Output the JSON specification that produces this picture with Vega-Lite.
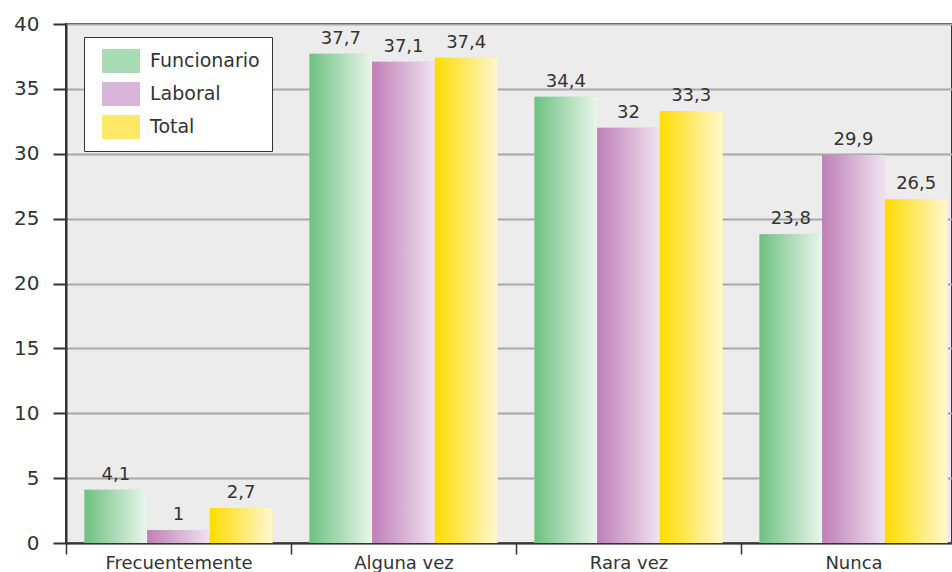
{
  "$schema": "https://vega.github.io/schema/vega-lite/v6.json",
  "width": 886,
  "height": 519,
  "autosize": {"type": "none"},
  "padding": {"left": 66, "top": 24, "right": 0, "bottom": 29},
  "background": "#ffffff",
  "config": {
    "locale": {"number": {"decimal": ",", "thousands": ".", "grouping": [3], "currency": ["", " €"]}},
    "font": "DejaVu Sans",
    "view": {"fill": "#ececec", "stroke": "#333333", "strokeWidth": 2}
  },
  "data": {
    "values": [
      {"cat": "Frecuentemente", "serie": "Funcionario", "value": 4.1},
      {"cat": "Frecuentemente", "serie": "Laboral", "value": 1},
      {"cat": "Frecuentemente", "serie": "Total", "value": 2.7},
      {"cat": "Alguna vez", "serie": "Funcionario", "value": 37.7},
      {"cat": "Alguna vez", "serie": "Laboral", "value": 37.1},
      {"cat": "Alguna vez", "serie": "Total", "value": 37.4},
      {"cat": "Rara vez", "serie": "Funcionario", "value": 34.4},
      {"cat": "Rara vez", "serie": "Laboral", "value": 32},
      {"cat": "Rara vez", "serie": "Total", "value": 33.3},
      {"cat": "Nunca", "serie": "Funcionario", "value": 23.8},
      {"cat": "Nunca", "serie": "Laboral", "value": 29.9},
      {"cat": "Nunca", "serie": "Total", "value": 26.5}
    ]
  },
  "encoding": {
    "x": {
      "field": "cat", "type": "nominal", "sort": null,
      "scale": {"range": [0, 900], "paddingInner": 0, "paddingOuter": 0},
      "axis": {
        "title": null, "labelAngle": 0, "domainColor": "#333333", "domainWidth": 2,
        "tickBand": "extent", "tickColor": "#333333", "tickWidth": 1.5, "tickSize": 11,
        "labelFontSize": 18, "labelColor": "#333333", "labelPadding": 0, "labelFont": "DejaVu Sans"
      }
    },
    "xOffset": {
      "field": "serie", "type": "nominal",
      "scale": {"domain": ["Funcionario", "Laboral", "Total"], "paddingInner": 0, "paddingOuter": 0.295}
    },
    "y": {
      "field": "value", "type": "quantitative",
      "scale": {"domain": [0, 40], "nice": false},
      "axis": {
        "title": null, "values": [0, 5, 10, 15, 20, 25, 30, 35, 40],
        "domainColor": "#333333", "domainWidth": 2, "tickColor": "#333333", "tickWidth": 2, "tickSize": 13,
        "gridColor": "#a8a8a8", "gridWidth": 2, "labelFontSize": 20, "labelColor": "#333333",
        "labelPadding": 14, "labelFont": "DejaVu Sans"
      }
    }
  },
  "layer": [
    {
      "mark": {"type": "bar"},
      "encoding": {
        "fill": {
          "field": "serie", "type": "nominal",
          "scale": {"domain": ["Funcionario", "Laboral", "Total"], "range": ["#a9dbb4", "#d9b5d9", "#ffe866"]},
          "legend": {
            "title": null, "orient": "none", "legendX": 18, "legendY": 13,
            "symbolType": "M-1.583,-1L1.583,-1L1.583,1L-1.583,1Z", "symbolSize": 576,
            "symbolStrokeWidth": 0, "symbolOffset": 13, "labelFontSize": 19, "labelColor": "#333333", "labelFont": "DejaVu Sans",
            "labelOffset": 17, "rowPadding": 9, "padding": 12,
            "strokeColor": "#333333", "fillColor": "#ffffff", "labelLimit": 300
          }
        }
      }
    },
    {
      "mark": {"type": "bar"},
      "encoding": {
        "fill": {
          "condition": [
            {"test": "datum.serie === 'Funcionario'", "value": {"gradient": "linear", "x1": 0, "y1": 0, "x2": 1, "y2": 0, "stops": [{"offset": 0, "color": "#6dc180"}, {"offset": 1, "color": "#eaf6ec"}]}},
            {"test": "datum.serie === 'Laboral'", "value": {"gradient": "linear", "x1": 0, "y1": 0, "x2": 1, "y2": 0, "stops": [{"offset": 0, "color": "#bf7fb8"}, {"offset": 1, "color": "#f0e2f0"}]}}
          ],
          "value": {"gradient": "linear", "x1": 0, "y1": 0, "x2": 1, "y2": 0, "stops": [{"offset": 0, "color": "#ffdc00"}, {"offset": 1, "color": "#fff7d0"}]}
        }
      }
    },
    {
      "mark": {"type": "text", "dy": -10, "fontSize": 18, "color": "#333333", "font": "DejaVu Sans", "baseline": "alphabetic"},
      "encoding": {
        "text": {"field": "value", "type": "quantitative", "format": ".1~f"}
      }
    }
  ]
}
